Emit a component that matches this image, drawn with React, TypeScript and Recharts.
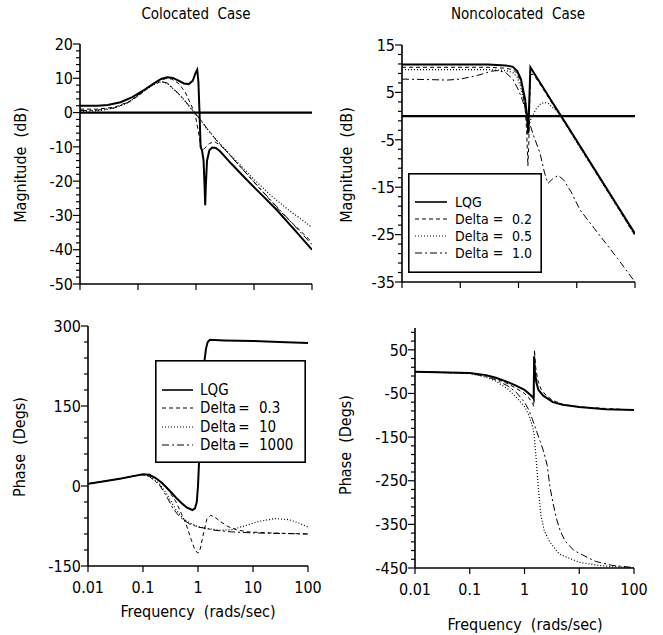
import React from 'react';
import { LineChart, Line, XAxis, YAxis, ReferenceLine } from 'recharts';

const FONT = "'DejaVu Sans Condensed', 'Liberation Sans Narrow', 'DejaVu Sans', sans-serif";

const decadeTicks = [0.01, 0.1, 1, 10, 100];
const decadeLabels = ['0.01', '0.1', '1', '10', '100'];

// ---- Colocated case, magnitude (dB)
const colMagLqgF = [0.01,0.02,0.03,0.05,0.08,0.12,0.18,0.25,0.32,0.4,0.5,0.62,0.75,0.88,0.98,1.05,1.1,1.15,1.2,1.27,1.35,1.41,1.44,1.48,1.55,1.7,1.9,2.2,2.6,4,7,12.7,25,50,100];
const colMagLqgV = [2.0,2.0,2.2,3.0,4.5,6.3,8.3,9.8,10.3,10.1,9.3,8.5,8.3,9.3,11.5,12.5,9,0,-10,-11,-14,-22,-27,-21,-14,-11,-10.2,-10.3,-11.3,-14.8,-19.1,-23.5,-28.5,-34.2,-40];
const colMagD1F = [0.01,0.02,0.04,0.07,0.1,0.15,0.22,0.3,0.38,0.5,0.65,0.8,0.96,1.1,1.25,1.4,1.7,2.1,2.5,3,5,10,30,100];
const colMagD1V = [1.0,1.0,1.6,3.2,4.8,7.2,9.2,9.9,9.8,8.5,6.0,2.7,-0.2,-5.6,-11,-10.5,-9,-8.5,-9.3,-10.4,-14.5,-20.3,-29.2,-37.8];
const colMagD2F = [0.01,0.02,0.04,0.07,0.12,0.18,0.25,0.32,0.45,0.6,0.8,1.0,1.2,1.6,2.2,3,5,10,20,40,70,100];
const colMagD2V = [0.4,0.5,1.3,3.0,6.0,8.0,9.0,8.5,6.2,4.0,1.4,-0.6,-2.2,-5,-7.8,-10.2,-14.2,-19.5,-24.3,-28.5,-31.5,-33.5];
const colMagD3F = [0.01,0.02,0.04,0.07,0.12,0.18,0.25,0.32,0.45,0.6,0.8,1.0,1.2,1.6,2.2,3,5,10,20,50,100];
const colMagD3V = [0.6,0.7,1.4,3.1,6.1,8.1,9.1,8.6,6.3,4.1,1.5,-0.5,-2.1,-5,-7.9,-10.4,-14.6,-20.2,-25.8,-33,-38.5];

// ---- Colocated case, phase (deg)
const colPhLqgF = [0.01,0.02,0.04,0.07,0.1,0.13,0.17,0.22,0.3,0.4,0.5,0.62,0.79,0.88,0.95,1.0,1.05,1.12,1.2,1.3,1.4,1.5,1.65,3,10,30,100];
const colPhLqgV = [4,9,14,19,22,21,15,6,-8,-22,-32,-40,-45,-42,-30,0,50,120,180,232,258,270,274,273,272,270,268];
const colPhD1F = [0.01,0.02,0.04,0.07,0.1,0.13,0.17,0.22,0.3,0.4,0.5,0.6,0.75,0.88,1.0,1.1,1.25,1.45,1.7,2.0,2.5,3.5,5,8,20,100];
const colPhD1V = [4,9,14,19,22,21,15,5,-10,-30,-52,-70,-100,-120,-126,-118,-90,-62,-55,-58,-66,-76,-82,-86,-88,-90];
const colPhD2F = [0.01,0.02,0.04,0.07,0.1,0.13,0.2,0.27,0.4,0.55,0.8,1.0,1.5,2.5,4,7,12,25,45,70,100];
const colPhD2V = [4,9,14,19,21,19,4,-15,-45,-62,-72,-76,-80,-83,-82,-75,-67,-61,-63,-70,-77];
const colPhD3F = [0.01,0.02,0.04,0.07,0.1,0.13,0.2,0.27,0.35,0.45,0.55,0.7,1.0,1.5,2,4,10,100];
const colPhD3V = [4,9,14,19,21,18,2,-20,-42,-56,-64,-71,-77,-80,-83,-86,-88,-90];

// ---- Noncolocated case, magnitude (dB)
const ncMagLqgF = [0.01,0.3,0.6,0.8,0.95,1.1,1.2,1.3,1.4,1.47,1.52,1.6,1.8,2.5,4,5.6,10,20,50,100];
const ncMagLqgV = [10.9,10.9,10.7,10.4,9.5,7.8,5.5,3.5,0,-3.6,2,10.3,9.3,6.5,2.5,-0.3,-5.2,-11.1,-18.9,-24.8];
const ncMagD1F = [0.01,0.3,0.6,0.8,0.95,1.1,1.2,1.3,1.38,1.45,1.5,1.56,1.62,1.8,2.5,4,5.6,10,20,50,100];
const ncMagD1V = [10.3,10.3,10.1,9.8,9.0,7.0,4.5,1.5,-3,-10.5,-6,3,8.8,8.8,6.2,2.2,-0.6,-5.5,-11.4,-19.2,-25.2];
const ncMagD2F = [0.01,0.3,0.6,0.8,0.95,1.1,1.2,1.3,1.4,1.45,1.55,1.65,2.0,2.4,2.8,3.3,4.0,5.0,6.0,10,20,50,100];
const ncMagD2V = [9.8,9.8,9.6,9.2,8.2,6.0,4.0,1.5,-1,-4,-1.5,-0.5,1.5,2.6,2.9,2.6,1.6,0.6,-0.8,-5.5,-11.4,-19.2,-25.2];
const ncMagD3F = [0.01,0.03,0.06,0.1,0.2,0.35,0.45,0.6,0.8,1.0,1.2,1.4,1.6,1.8,2.35,2.8,3.2,3.8,4.8,6,8,11.4,20,50,100];
const ncMagD3V = [7.8,7.7,7.6,7.8,8.6,9.5,9.6,9.2,7.8,5.5,3,0.3,-2,-4,-7.9,-12,-14.2,-13.3,-12.5,-13.5,-16,-19.8,-23.7,-30,-35];

// ---- Noncolocated case, phase (deg)
const ncPhLqgF = [0.01,0.1,0.2,0.3,0.5,0.7,1.0,1.2,1.4,1.47,1.5,1.55,1.65,1.8,2.2,3.3,5,10,30,100];
const ncPhLqgV = [0,-3,-8,-14,-24,-32,-42,-50,-58,-62,35,0,-25,-42,-55,-70,-76,-81,-86,-88];
const ncPhD1F = [0.01,0.1,0.2,0.3,0.5,0.7,1.0,1.2,1.4,1.48,1.52,1.6,1.75,2.0,2.5,3.3,5,10,100];
const ncPhD1V = [0,-3,-9,-16,-28,-38,-50,-60,-72,-80,50,10,-20,-40,-55,-66,-75,-81,-88];
const ncPhD2F = [0.01,0.1,0.2,0.3,0.5,0.7,1.0,1.2,1.4,1.5,1.63,1.8,2.0,2.3,2.9,4.3,10,26,100];
const ncPhD2V = [0,-4,-13,-22,-40,-58,-80,-100,-125,-145,-200,-270,-330,-365,-390,-418,-437,-445,-450];
const ncPhD3F = [0.01,0.1,0.2,0.3,0.5,0.7,1.0,1.2,1.4,1.7,2.2,2.6,2.9,3.3,3.8,4.5,5.5,8,11.5,20,40,100];
const ncPhD3V = [0,-4,-11,-19,-33,-47,-70,-88,-110,-140,-180,-215,-262,-300,-335,-365,-388,-410,-420,-435,-444,-449];

// legends
const colLegend = ['LQG', '0.3', '10', '1000'];
const ncLegend = ['LQG', '0.2', '0.5', '1.0'];

// axis ticks
const range = (a: number, b: number, s: number) => { const r: number[] = []; for (let v = a; v <= b + 1e-9; v += s) r.push(v); return r; };
const colMagMajor = [20, 10, 0, -10, -20, -30, -40, -50];
const ncMagMajor = [15, 5, -5, -15, -25, -35];
const colPhMajor = [300, 150, 0, -150];
const ncPhMajor = [50, -50, -150, -250, -350, -450];

const STYLES = [
  { w: 2, dash: undefined },
  { w: 1, dash: '4 3' },
  { w: 1.2, dash: '1 2' },
  { w: 1, dash: '7 3 2 3' },
];

const pts = (f: number[], v: number[]) => f.map((x, i) => ({ f: x, v: v[i] }));

const YTick = (props: any) => {
  const { x, y, payload, majors, side } = props;
  const isMajor = majors.includes(payload.value);
  const len = isMajor ? 7 : 4;
  if (side === 'right') {
    return <line x1={x - len} x2={x} y1={y} y2={y} stroke="#000" strokeWidth={1} />;
  }
  return (
    <g>
      <line x1={x - len} x2={x} y1={y} y2={y} stroke="#000" strokeWidth={1.2} />
      {isMajor && (
        <text x={x - 7} y={y} dy="0.36em" textAnchor="end" fontSize={16} fontFamily={FONT} fill="#000">
          {payload.value}
        </text>
      )}
    </g>
  );
};

const XTick = (props: any) => {
  const { x, y, payload, showLabel, side } = props;
  const idx = decadeTicks.indexOf(payload.value);
  if (side === 'top') {
    return <line x1={x} x2={x} y1={y} y2={y + 4} stroke="#000" strokeWidth={1} />;
  }
  return (
    <g>
      <line x1={x} x2={x} y1={y} y2={y + 6} stroke="#000" strokeWidth={1.2} />
      {showLabel && (
        <text x={x} y={y + 27} textAnchor="middle" fontSize={16} fontFamily={FONT} fill="#000">
          {decadeLabels[idx]}
        </text>
      )}
    </g>
  );
};

type PanelProps = {
  left: number; top: number; width: number; height: number;
  margin: { top: number; right: number; bottom: number; left: number };
  yWidth: number; xHeight: number;
  domain: [number, number]; majors: number[]; allTicks: number[];
  showXLabels: boolean; zeroLine: boolean;
  series: { f: number[]; v: number[] }[];
};

function Panel(p: PanelProps) {
  return (
    <div style={{ position: 'absolute', left: p.left, top: p.top }}>
      <LineChart width={p.width} height={p.height} margin={p.margin}>
        <XAxis
          dataKey="f" type="number" scale="log" domain={[0.01, 100]} ticks={decadeTicks}
          allowDataOverflow interval={0} height={p.xHeight} tickSize={0} tickMargin={0}
          tickLine={false} axisLine={{ stroke: '#000', strokeWidth: 1.6 }}
          tick={(tp: any) => <XTick {...tp} showLabel={p.showXLabels} />}
        />
        <XAxis
          xAxisId="t" orientation="top" dataKey="f" type="number" scale="log" domain={[0.01, 100]}
          ticks={decadeTicks} allowDataOverflow interval={0} height={0} tickSize={0} tickMargin={0}
          tickLine={false} axisLine={{ stroke: '#000', strokeWidth: 1.6 }}
          tick={(tp: any) => <XTick {...tp} side="top" />}
        />
        <YAxis
          type="number" domain={p.domain} ticks={p.allTicks} allowDataOverflow interval={0}
          width={p.yWidth} tickSize={0} tickMargin={0} tickLine={false}
          axisLine={{ stroke: '#000', strokeWidth: 1.6 }}
          tick={(tp: any) => <YTick {...tp} majors={p.majors} />}
        />
        <YAxis
          yAxisId="r" orientation="right" type="number" domain={p.domain} ticks={p.allTicks}
          allowDataOverflow interval={0} width={0} tickSize={0} tickMargin={0} tickLine={false}
          axisLine={{ stroke: '#000', strokeWidth: 1.6 }}
          tick={(tp: any) => <YTick {...tp} majors={p.majors} side="right" />}
        />
        {p.zeroLine && <ReferenceLine y={0} stroke="#000" strokeWidth={2.2} />}
        {p.series.map((s, i) => (
          <Line
            key={i} data={pts(s.f, s.v)} dataKey="v" type="linear" stroke="#000"
            strokeWidth={STYLES[i].w} strokeDasharray={STYLES[i].dash}
            dot={false} activeDot={false} isAnimationActive={false}
          />
        ))}
      </LineChart>
    </div>
  );
}

function LegendBox(props: { left: number; top: number; width: number; height: number; labels: string[];
  rowY: number[]; sampleX: [number, number]; textX: number; eqX: number; valX: number; fontSize: number }) {
  const { left, top, width, height, labels, rowY, sampleX, textX, eqX, valX, fontSize } = props;
  return (
    <svg style={{ position: 'absolute', left, top }} width={width} height={height}>
      <rect x={0.8} y={0.8} width={width - 1.6} height={height - 1.6} fill="#fff" stroke="#000" strokeWidth={1.6} />
      {labels.map((lab, i) => (
        <g key={i}>
          <line x1={sampleX[0]} x2={sampleX[1]} y1={rowY[i]} y2={rowY[i]} stroke="#000"
            strokeWidth={i === 0 ? 1.6 : STYLES[i].w} strokeDasharray={STYLES[i].dash} />
          {i === 0 ? (
            <text x={textX} y={rowY[i]} dy="0.36em" fontSize={fontSize} fontFamily={FONT}>{lab}</text>
          ) : (
            <g>
              <text x={textX} y={rowY[i]} dy="0.36em" fontSize={fontSize} fontFamily={FONT}>Delta</text>
              <text x={eqX} y={rowY[i]} dy="0.36em" fontSize={fontSize} fontFamily={FONT} textAnchor="middle">=</text>
              <text x={valX} y={rowY[i]} dy="0.36em" fontSize={fontSize} fontFamily={FONT}>{lab}</text>
            </g>
          )}
        </g>
      ))}
    </svg>
  );
}

const Label = ({ x, y, text, rotate, size }: { x: number; y: number; text: string; rotate?: boolean; size: number }) => (
  <div style={{
    position: 'absolute', left: x, top: y, transform: `translate(-50%, -50%)${rotate ? ' rotate(-90deg)' : ''}`,
    whiteSpace: 'pre', fontFamily: FONT, fontSize: size, lineHeight: 1, color: '#000',
  }}>{text}</div>
);

export default function App() {
  return (
    <div style={{ position: 'absolute', left: 0, top: 0, width: 663, height: 635, background: '#fff', overflow: 'hidden' }}>
      <Panel
        left={0} top={0} width={330} height={320}
        margin={{ top: 44, right: 18, bottom: 6, left: 0 }} yWidth={80} xHeight={30}
        domain={[-50, 20]} majors={colMagMajor} allTicks={range(-50, 20, 2)}
        showXLabels={false} zeroLine
        series={[{ f: colMagLqgF, v: colMagLqgV }, { f: colMagD1F, v: colMagD1V }, { f: colMagD2F, v: colMagD2V }, { f: colMagD3F, v: colMagD3V }]}
      />
      <Panel
        left={330} top={0} width={333} height={320}
        margin={{ top: 45, right: 28, bottom: 8, left: 0 }} yWidth={72} xHeight={30}
        domain={[-35, 15]} majors={ncMagMajor} allTicks={range(-35, 15, 2)}
        showXLabels={false} zeroLine
        series={[{ f: ncMagLqgF, v: ncMagLqgV }, { f: ncMagD1F, v: ncMagD1V }, { f: ncMagD2F, v: ncMagD2V }, { f: ncMagD3F, v: ncMagD3V }]}
      />
      <Panel
        left={0} top={300} width={330} height={335}
        margin={{ top: 26, right: 22, bottom: 19, left: 0 }} yWidth={88} xHeight={50}
        domain={[-150, 300]} majors={colPhMajor} allTicks={range(-150, 300, 30)}
        showXLabels zeroLine={false}
        series={[{ f: colPhLqgF, v: colPhLqgV }, { f: colPhD1F, v: colPhD1V }, { f: colPhD2F, v: colPhD2V }, { f: colPhD3F, v: colPhD3V }]}
      />
      <Panel
        left={330} top={300} width={333} height={335}
        margin={{ top: 28, right: 29, bottom: 17, left: 0 }} yWidth={85} xHeight={50}
        domain={[-450, 100]} majors={ncPhMajor} allTicks={range(-450, 90, 20)}
        showXLabels zeroLine={false}
        series={[{ f: ncPhLqgF, v: ncPhLqgV }, { f: ncPhD1F, v: ncPhD1V }, { f: ncPhD2F, v: ncPhD2V }, { f: ncPhD3F, v: ncPhD3V }]}
      />

      <LegendBox left={155} top={360} width={151} height={103} labels={colLegend}
        rowY={[30, 48, 67, 85]} sampleX={[7, 38]} textX={45} eqX={89} valX={104} fontSize={15} />
      <LegendBox left={408} top={173} width={134} height={100} labels={ncLegend}
        rowY={[29, 46, 63, 80]} sampleX={[7, 39]} textX={47} eqX={90} valX={104} fontSize={14} />

      <Label x={196} y={14} text="Colocated  Case" size={15} />
      <Label x={518} y={14} text="Noncolocated  Case" size={15} />
      <Label x={21} y={165} text="Magnitude  (dB)" rotate size={16} />
      <Label x={347} y={165} text="Magnitude  (dB)" rotate size={16} />
      <Label x={20} y={447} text="Phase  (Degs)" rotate size={16} />
      <Label x={346} y={445} text="Phase  (Degs)" rotate size={16} />
      <Label x={198} y={612} text="Frequency  (rads/sec)" size={16} />
      <Label x={525} y={625} text="Frequency  (rads/sec)" size={16} />
    </div>
  );
}
